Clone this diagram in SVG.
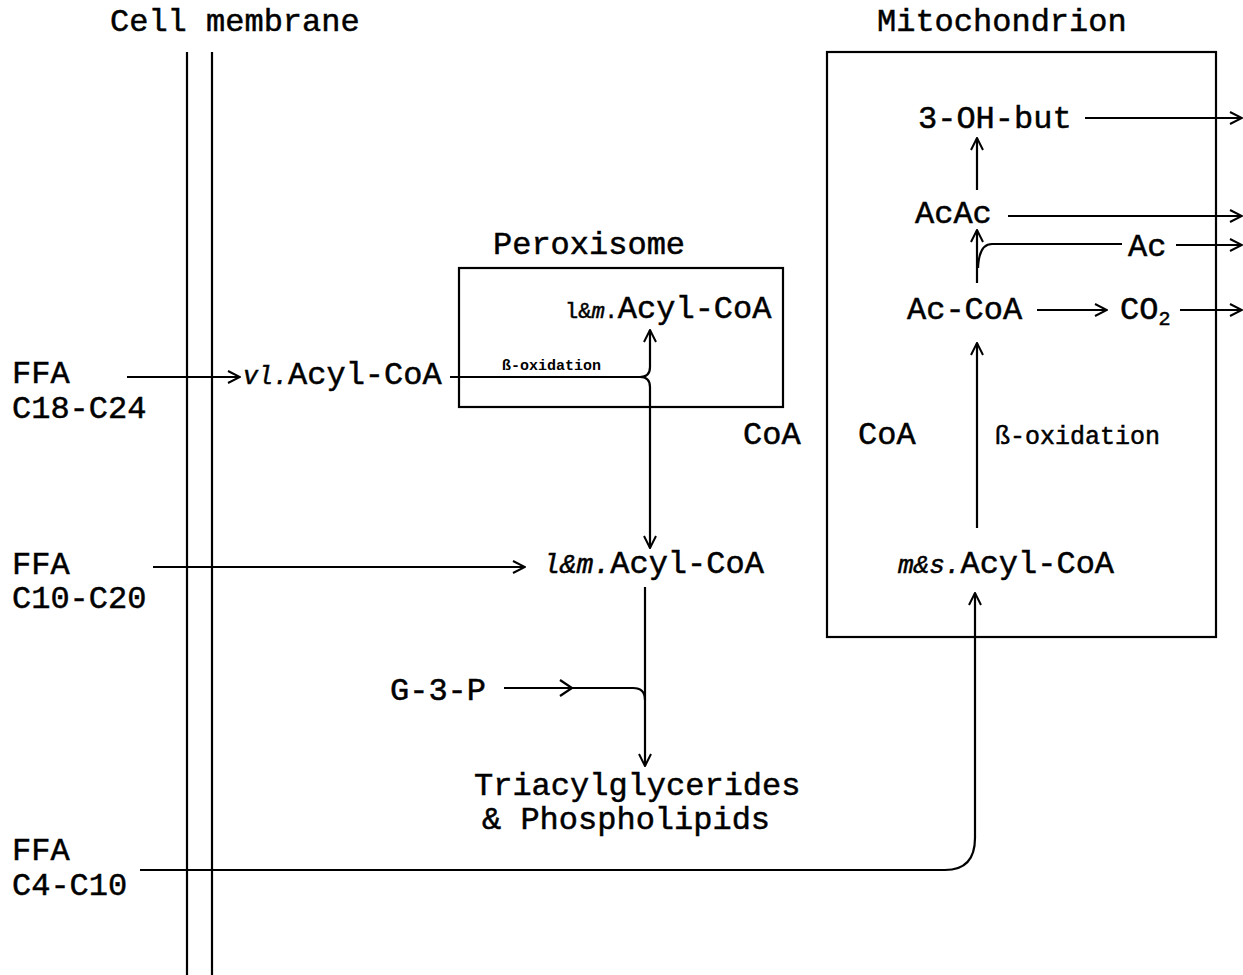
<svg xmlns="http://www.w3.org/2000/svg" width="1243" height="975" viewBox="0 0 1243 975">
<defs>
<marker id="ah" viewBox="0 0 14 14" refX="13" refY="7" markerWidth="14" markerHeight="14" markerUnits="userSpaceOnUse" orient="auto">
<path d="M1,1 L13,7 L1,13" fill="none" stroke="#000" stroke-width="2"/>
</marker>
<style>
.t{font-family:"Liberation Mono","Courier New",monospace;font-size:32px;fill:#000;stroke:#000;stroke-width:0.5}
.i{font-style:italic}
.ln{stroke:#000;stroke-width:2.2;fill:none}
.a{marker-end:url(#ah)}
.box{fill:none;stroke:#000;stroke-width:2.2}
</style>
</defs>
<rect width="1243" height="975" fill="#fff"/>

<g id="membrane">
<path class="ln" d="M187,52 V975 M212,52 V975"/>
<text class="t" x="110" y="31">Cell membrane</text>
</g>

<g id="peroxisome">
<rect class="box" x="459" y="268" width="324" height="139"/>
<text class="t" x="493" y="254">Peroxisome</text>
</g>

<g id="mitochondrion">
<rect class="box" x="827" y="52" width="389" height="585"/>
<text class="t" x="877" y="31">Mitochondrion</text>
</g>

<g id="ffa1"><text class="t" x="12" y="383">FFA</text><text class="t" x="12" y="418">C18-C24</text></g>
<g id="ffa2"><text class="t" x="12" y="574">FFA</text><text class="t" x="12" y="608">C10-C20</text></g>
<g id="ffa3"><text class="t" x="12" y="860">FFA</text><text class="t" x="12" y="895">C4-C10</text></g>

<g id="vl-acyl"><text class="t" x="243" y="384"><tspan class="i" font-size="25">vl.</tspan>Acyl-CoA</text></g>
<g id="perox-acyl"><text class="t" x="565" y="318"><tspan font-size="22">l&amp;</tspan><tspan class="i" font-size="22">m</tspan><tspan font-size="22">.</tspan>Acyl-CoA</text></g>
<g id="perox-boxidation"><text class="t" x="502" y="370" style="font-size:15px;font-weight:bold;stroke-width:0">ß-oxidation</text></g>
<g id="cyto-acyl"><text class="t" x="543" y="573"><tspan class="i" font-size="28">l&amp;m.</tspan>Acyl-CoA</text></g>
<g id="g3p"><text class="t" x="390" y="700">G-3-P</text></g>
<g id="tag"><text class="t" x="474" y="795">Triacylglycerides</text><text class="t" x="482" y="829">&amp; Phospholipids</text></g>
<g id="coa1"><text class="t" x="743" y="444">CoA</text></g>
<g id="coa2"><text class="t" x="858" y="444">CoA</text></g>
<g id="mito-boxidation"><text class="t" x="995" y="444" style="font-size:25px">ß-oxidation</text></g>
<g id="ms-acyl"><text class="t" x="898" y="573"><tspan class="i" font-size="26">m&amp;s.</tspan>Acyl-CoA</text></g>
<g id="accoa"><text class="t" x="907" y="319">Ac-CoA</text></g>
<g id="co2"><text class="t" x="1120" y="319">CO<tspan font-size="20" dy="6">2</tspan></text></g>
<g id="ac"><text class="t" x="1128" y="256">Ac</text></g>
<g id="acac"><text class="t" x="915" y="223">AcAc</text></g>
<g id="ohbut"><text class="t" x="918" y="128">3-OH-but</text></g>

<g id="connectors">
<path class="ln a" d="M127,377 H240"/>
<path class="ln a" d="M450,377 H640 Q650,377 650,367 V330"/>
<path class="ln a" d="M640,377 Q650,377 650,387 V548"/>
<path class="ln a" d="M153,567 H525"/>
<path class="ln a" d="M645,587 V766"/>
<path class="ln" d="M504,688 H633 Q645,688 645,700"/>
<path class="ln" d="M560,680 L572,688 L560,696"/>
<path class="ln a" d="M140,870 H945 Q975,870 975,838 V593"/>
<path class="ln a" d="M977,528 V343"/>
<path class="ln a" d="M977,283 V230"/>
<path class="ln" d="M1122,244 H992 Q979,244 978,268"/>
<path class="ln a" d="M977,190 V138"/>
<path class="ln a" d="M1085,118 H1242"/>
<path class="ln a" d="M1008,216 H1242"/>
<path class="ln a" d="M1176,245 H1242"/>
<path class="ln a" d="M1037,310 H1107"/>
<path class="ln a" d="M1180,310 H1242"/>
</g>
</svg>
